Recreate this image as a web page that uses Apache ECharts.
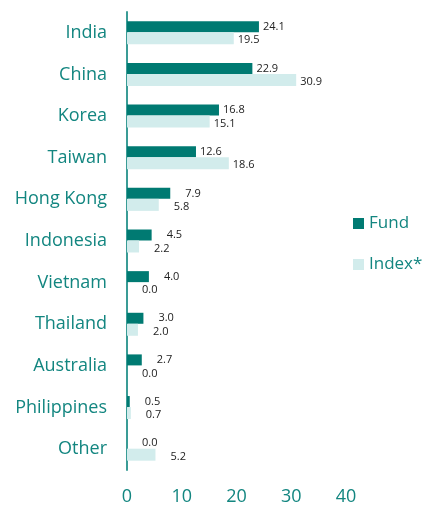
<!DOCTYPE html>
<html>
<head>
<meta charset="utf-8">
<script src="https://cdn.jsdelivr.net/npm/echarts@6/dist/echarts.min.js"></script>
<style>
  html, body { margin: 0; padding: 0; background: #fff; }
  #chart { width: 423px; height: 506px; }
</style>
</head>
<body>
<div id="chart"></div>
<script>
  // country allocation, percent
  var categories = ['India', 'China', 'Korea', 'Taiwan', 'Hong Kong', 'Indonesia',
    'Vietnam', 'Thailand', 'Australia', 'Philippines', 'Other'];
  var fundValues = [24.1, 22.9, 16.8, 12.6, 7.9, 4.5, 4.0, 3.0, 2.7, 0.5, 0.0];
  var indexValues = [19.5, 30.9, 15.1, 18.6, 5.8, 2.2, 0.0, 2.0, 0.0, 0.7, 5.2];
  var xTicks = [0, 10, 20, 30, 40];

  var teal = '#007A72';
  var textTeal = '#138680';
  var font = 'Open Sans';

  // labels of single digit values sit a bit further out, like the original
  function toItems(values) {
    return values.map(function (v) {
      return { value: v, label: { distance: v >= 10 ? 4 : 15 } };
    });
  }

  var chart = echarts.init(document.getElementById('chart'));
  chart.setOption({
    animation: false,
    grid: { left: 127, right: 77, top: 12, bottom: 36 },
    legend: {
      orient: 'vertical',
      left: 348,
      top: 210,
      itemWidth: 11,
      itemHeight: 11,
      itemGap: 24,
      icon: 'rect',
      textStyle: { color: textTeal, fontSize: 17, fontFamily: font },
      data: ['Fund', 'Index*']
    },
    xAxis: {
      type: 'value',
      min: xTicks[0],
      max: xTicks[xTicks.length - 1],
      interval: 10,
      splitLine: { show: false },
      axisLine: { show: false },
      axisTick: { show: false },
      axisLabel: { color: textTeal, fontSize: 18, fontFamily: font, margin: 18 }
    },
    yAxis: {
      type: 'category',
      inverse: true,
      data: categories,
      axisTick: { show: false },
      axisLine: { lineStyle: { color: '#3A9C96', width: 2 } },
      axisLabel: { color: textTeal, fontSize: 18, fontFamily: font, margin: 20 }
    },
    series: [
      {
        name: 'Fund',
        type: 'bar',
        data: toItems(fundValues),
        barWidth: 11,
        barGap: '0%',
        itemStyle: { color: teal },
        label: {
          show: true, position: 'right', color: '#222',
          fontSize: 11, fontFamily: font,
          formatter: function (p) { return p.value.toFixed(1); }
        }
      },
      {
        name: 'Index*',
        type: 'bar',
        data: toItems(indexValues),
        barWidth: 12,
        itemStyle: { color: '#D2ECEC' },
        label: {
          show: true, position: 'right', color: '#222',
          fontSize: 11, fontFamily: font, offset: [0, 2],
          formatter: function (p) { return p.value.toFixed(1); }
        }
      }
    ]
  });
</script>
</body>
</html>
